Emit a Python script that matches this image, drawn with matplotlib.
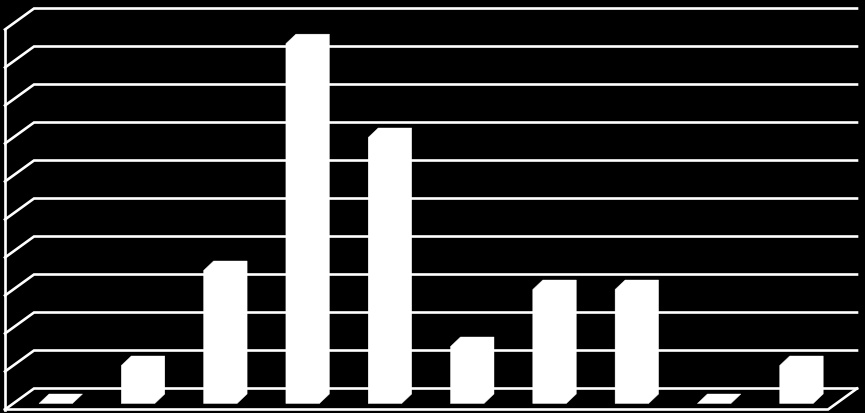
import matplotlib
matplotlib.use("Agg")
import matplotlib.pyplot as plt
from matplotlib.patches import Polygon

categories = list(range(10))
values = [0, 1, 3.5, 9.47, 7, 1.5, 3, 3, 0, 1]
gridlines = list(range(11))

W, H = 865, 414
SLOT = 82.3        # pixels per category
UNIT = 38.0        # pixels per value unit
BAR_W = 33.5 / SLOT
DX, DY = 10 / SLOT, 9.5 / UNIT           # bar depth
BACK_X, BACK_Y = 5 / SLOT, 15 / UNIT     # wall plane offset from bar front plane
WALL_DX, WALL_DY = 29 / SLOT, 21 / UNIT  # wall depth
BASE_PX = 404.5

fig = plt.figure(figsize=(W / 100, H / 100), dpi=100, facecolor="black")
ax = fig.add_axes([0, 0, 1, 1], facecolor="black")
ax.set_xlim(-39 / SLOT, (W - 39) / SLOT)
ax.set_ylim(-(H - BASE_PX) / UNIT, BASE_PX / UNIT)
ax.axis("off")

# wall geometry, in data units
x_front = (5 - 39) / SLOT
x_back = x_front + WALL_DX
x_end = (857 - 39) / SLOT
lw = 1.9
style = dict(color="white", lw=lw, solid_capstyle="projecting", solid_joinstyle="miter")

for g in gridlines:
    y_back = g + BACK_Y
    y_front = y_back - WALL_DY
    ax.plot([x_front, x_back, x_end], [y_front, y_back, y_back], **style)

# front edge of the left wall and floor
y0_back = gridlines[0] + BACK_Y
y0_front = y0_back - WALL_DY
ax.plot([x_front, x_front], [y0_front, gridlines[-1] + BACK_Y - WALL_DY], **style)
ax.plot([x_front, x_end - WALL_DX, x_end], [y0_front, y0_front, y0_back], **style)

for c, v in zip(categories, values):
    x0, x1 = c, c + BAR_W
    ax.add_patch(Polygon(
        [(x0, 0), (x1, 0), (x1 + DX, DY), (x1 + DX, v + DY), (x0 + DX, v + DY), (x0, v)],
        closed=True, facecolor="white", edgecolor="white", lw=0.3, zorder=3))

fig.savefig("out.png", dpi=100, facecolor="black")
